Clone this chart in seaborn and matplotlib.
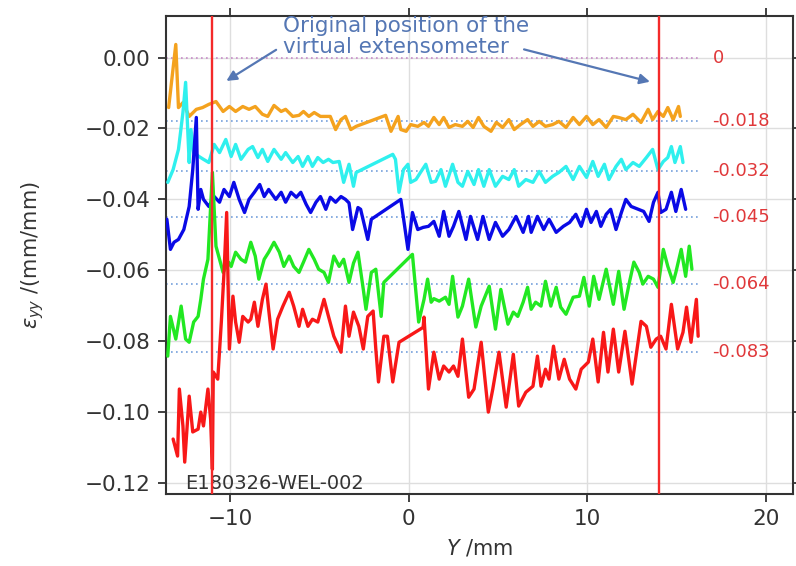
import numpy as np
import pandas as pd
import seaborn as sns
import matplotlib.pyplot as plt

# strain profiles along Y (mm, eps_yy)
orange = [(-13.45, -0.0141), (-13.05, 0.0037), (-12.9, -0.0141), (-12.65, -0.0127), (-12.3, -0.0166),
          (-11.9, -0.0146), (-11.55, -0.0141), (-11.2, -0.0132), (-10.8, -0.0124), (-10.4, -0.0152),
          (-10.05, -0.0138), (-9.7, -0.0152), (-9.3, -0.0138), (-8.95, -0.0146), (-8.6, -0.0138),
          (-8.2, -0.0160), (-7.9, -0.0166), (-7.55, -0.0135), (-7.15, -0.0152), (-6.9, -0.0146),
          (-6.5, -0.0166), (-6.15, -0.0163), (-5.9, -0.0152), (-5.6, -0.0166), (-5.3, -0.0155),
          (-4.95, -0.0166), (-4.55, -0.0166), (-4.4, -0.0166), (-4.1, -0.0203), (-3.8, -0.0175),
          (-3.55, -0.0166), (-3.25, -0.0203), (-2.95, -0.0194), (-1.3, -0.0163), (-1.0, -0.0208),
          (-0.6, -0.0166), (-0.45, -0.0203), (-0.15, -0.0208), (0.1, -0.0189), (0.5, -0.0194),
          (0.85, -0.0183), (1.1, -0.0194), (1.4, -0.0169), (1.7, -0.0189), (1.95, -0.0169),
          (2.25, -0.0197), (2.6, -0.0189), (3.0, -0.0194), (3.3, -0.0180), (3.6, -0.0197),
          (3.9, -0.0169), (4.2, -0.0194), (4.6, -0.0208), (4.9, -0.0183), (5.25, -0.0197),
          (5.6, -0.0175), (5.9, -0.0203), (6.25, -0.0189), (6.65, -0.0175), (6.95, -0.0194),
          (7.3, -0.0180), (7.65, -0.0194), (8.05, -0.0189), (8.4, -0.0180), (8.8, -0.0197),
          (9.2, -0.0169), (9.55, -0.0189), (9.95, -0.0166), (10.3, -0.0189), (10.65, -0.0175),
          (11.05, -0.0197), (11.45, -0.0166), (11.75, -0.0169), (12.15, -0.0175), (12.55, -0.0160),
          (13.0, -0.0183), (13.4, -0.0146), (13.65, -0.0175), (13.95, -0.0152), (14.25, -0.0166),
          (14.5, -0.0141), (14.8, -0.0175), (15.1, -0.0138), (15.2, -0.0166)]

cyan = [(-13.5, -0.0352), (-13.2, -0.0316), (-12.9, -0.0259), (-12.65, -0.0155), (-12.5, -0.0070),
        (-12.3, -0.0296), (-12.2, -0.0203), (-12.05, -0.0268), (-11.75, -0.0279), (-11.5, -0.0287),
        (-11.2, -0.0296), (-10.9, -0.0245), (-10.6, -0.0268), (-10.25, -0.0231), (-9.95, -0.0279),
        (-9.7, -0.0245), (-9.4, -0.0287), (-9.0, -0.0259), (-8.75, -0.0251), (-8.45, -0.0282),
        (-8.2, -0.0259), (-7.9, -0.0293), (-7.55, -0.0259), (-7.15, -0.0287), (-6.9, -0.0268),
        (-6.5, -0.0296), (-6.2, -0.0279), (-5.95, -0.0307), (-5.65, -0.0279), (-5.4, -0.0307),
        (-5.1, -0.0282), (-4.8, -0.0296), (-4.5, -0.0287), (-4.25, -0.0296), (-3.9, -0.0293),
        (-3.65, -0.0352), (-3.35, -0.0301), (-3.1, -0.0363), (-2.95, -0.0324), (-0.9, -0.0273),
        (-0.75, -0.0287), (-0.55, -0.0380), (-0.3, -0.0316), (-0.05, -0.0301), (0.1, -0.0352),
        (0.4, -0.0344), (0.65, -0.0324), (0.95, -0.0301), (1.25, -0.0352), (1.5, -0.0349),
        (1.8, -0.0316), (2.05, -0.0363), (2.45, -0.0301), (2.75, -0.0352), (3.0, -0.0363),
        (3.3, -0.0321), (3.65, -0.0358), (3.9, -0.0316), (4.2, -0.0363), (4.5, -0.0316),
        (4.85, -0.0363), (5.25, -0.0335), (5.6, -0.0344), (5.9, -0.0316), (6.15, -0.0363),
        (6.55, -0.0344), (6.95, -0.0352), (7.3, -0.0321), (7.65, -0.0352), (8.05, -0.0335),
        (8.4, -0.0324), (8.8, -0.0307), (9.2, -0.0344), (9.55, -0.0307), (9.95, -0.0338),
        (10.3, -0.0293), (10.6, -0.0335), (10.95, -0.0301), (11.2, -0.0344), (11.6, -0.0307),
        (11.9, -0.0287), (12.15, -0.0316), (12.55, -0.0296), (12.9, -0.0307), (13.3, -0.0282),
        (13.65, -0.0259), (13.95, -0.0316), (14.25, -0.0293), (14.5, -0.0282), (14.7, -0.0251),
        (14.9, -0.0296), (15.2, -0.0251), (15.35, -0.0296)]

blue = [(-13.55, -0.0456), (-13.35, -0.0541), (-13.15, -0.0521), (-12.9, -0.0513), (-12.6, -0.0485),
        (-12.3, -0.0420), (-12.1, -0.0316), (-11.9, -0.0169), (-11.8, -0.0428), (-11.65, -0.0372),
        (-11.5, -0.0400), (-11.2, -0.0420), (-10.9, -0.0392), (-10.6, -0.0408), (-10.35, -0.0372),
        (-10.05, -0.0392), (-9.8, -0.0352), (-9.5, -0.0400), (-9.2, -0.0437), (-8.95, -0.0400),
        (-8.65, -0.0380), (-8.35, -0.0358), (-8.1, -0.0392), (-7.85, -0.0372), (-7.45, -0.0400),
        (-7.15, -0.0380), (-6.9, -0.0408), (-6.6, -0.0380), (-6.3, -0.0394), (-6.05, -0.0380),
        (-5.75, -0.0414), (-5.5, -0.0437), (-5.2, -0.0408), (-4.95, -0.0392), (-4.65, -0.0428),
        (-4.4, -0.0394), (-4.1, -0.0408), (-3.8, -0.0392), (-3.55, -0.0400), (-3.35, -0.0410),
        (-3.15, -0.0485), (-2.85, -0.0423), (-2.7, -0.0428), (-2.3, -0.0513), (-2.1, -0.0456),
        (-0.45, -0.0400), (-0.05, -0.0541), (0.2, -0.0437), (0.5, -0.0485), (0.8, -0.0479),
        (1.1, -0.0476), (1.4, -0.0462), (1.7, -0.0504), (1.95, -0.0434), (2.25, -0.0504),
        (2.5, -0.0476), (2.8, -0.0434), (3.2, -0.0513), (3.45, -0.0448), (3.85, -0.0513),
        (4.15, -0.0448), (4.5, -0.0513), (4.85, -0.0465), (5.25, -0.0504), (5.6, -0.0485),
        (6.0, -0.0448), (6.4, -0.0493), (6.7, -0.0448), (6.85, -0.0493), (7.2, -0.0448),
        (7.55, -0.0485), (7.85, -0.0456), (8.25, -0.0493), (8.65, -0.0476), (9.0, -0.0465),
        (9.35, -0.0442), (9.65, -0.0476), (9.95, -0.0428), (10.2, -0.0465), (10.5, -0.0434),
        (10.75, -0.0476), (11.05, -0.0442), (11.3, -0.0428), (11.6, -0.0485), (11.9, -0.0437),
        (12.15, -0.0400), (12.45, -0.0420), (12.85, -0.0428), (13.15, -0.0434), (13.45, -0.0462),
        (13.7, -0.0408), (13.95, -0.0380), (14.1, -0.0437), (14.4, -0.0428), (14.7, -0.0380),
        (14.95, -0.0434), (15.25, -0.0372), (15.5, -0.0428)]

green = [(-13.5, -0.0842), (-13.35, -0.0730), (-13.05, -0.0794), (-12.75, -0.0701), (-12.5, -0.0794),
         (-12.3, -0.0803), (-12.05, -0.0746), (-11.8, -0.0730), (-11.65, -0.0682), (-11.5, -0.0625),
         (-11.25, -0.0569), (-11.0, -0.0324), (-10.8, -0.0532), (-10.6, -0.0569), (-10.4, -0.0606),
         (-10.1, -0.0577), (-9.95, -0.0589), (-9.7, -0.0549), (-9.4, -0.0569), (-9.15, -0.0577),
         (-8.85, -0.0521), (-8.6, -0.0560), (-8.4, -0.0625), (-8.1, -0.0569), (-7.85, -0.0549),
         (-7.55, -0.0521), (-7.25, -0.0549), (-7.0, -0.0589), (-6.7, -0.0560), (-6.45, -0.0589),
         (-6.15, -0.0606), (-5.9, -0.0577), (-5.6, -0.0541), (-5.3, -0.0569), (-5.05, -0.0597),
         (-4.75, -0.0606), (-4.5, -0.0634), (-4.2, -0.0560), (-3.9, -0.0589), (-3.65, -0.0569),
         (-3.35, -0.0634), (-3.1, -0.0580), (-2.85, -0.0549), (-2.55, -0.0654), (-2.4, -0.0710),
         (-2.1, -0.0606), (-1.85, -0.0597), (-1.55, -0.0730), (-1.4, -0.0634), (0.2, -0.0555),
         (0.55, -0.0746), (0.85, -0.0682), (1.05, -0.0625), (1.25, -0.0690), (1.4, -0.0680),
         (1.7, -0.0687), (2.05, -0.0676), (2.25, -0.0696), (2.45, -0.0617), (2.75, -0.0732),
         (3.0, -0.0701), (3.35, -0.0625), (3.75, -0.0760), (4.05, -0.0701), (4.5, -0.0645),
         (4.85, -0.0766), (5.15, -0.0654), (5.55, -0.0752), (5.85, -0.0718), (6.1, -0.0730),
         (6.4, -0.0690), (6.65, -0.0648), (6.85, -0.0710), (7.1, -0.0690), (7.4, -0.0701),
         (7.65, -0.0631), (7.95, -0.0701), (8.25, -0.0648), (8.5, -0.0704), (8.8, -0.0724),
         (9.2, -0.0676), (9.55, -0.0673), (9.8, -0.0620), (10.1, -0.0701), (10.35, -0.0617),
         (10.65, -0.0682), (11.05, -0.0597), (11.45, -0.0696), (11.75, -0.0603), (12.05, -0.0710),
         (12.35, -0.0634), (12.6, -0.0577), (12.9, -0.0606), (13.1, -0.0639), (13.4, -0.0617),
         (13.7, -0.0625), (13.95, -0.0648), (14.25, -0.0541), (14.5, -0.0589), (14.8, -0.0634),
         (14.95, -0.0606), (15.25, -0.0541), (15.5, -0.0617), (15.7, -0.0532), (15.85, -0.0597)]

red = [(-13.2, -0.1076), (-12.95, -0.1124), (-12.85, -0.0935), (-12.65, -0.1039), (-12.55, -0.1141),
       (-12.3, -0.0955), (-12.1, -0.1056), (-11.8, -0.1048), (-11.65, -0.1000), (-11.5, -0.1039),
       (-11.25, -0.0935), (-11.1, -0.1020), (-11.0, -0.1161), (-10.95, -0.0887), (-10.7, -0.0907),
       (-10.5, -0.0746), (-10.35, -0.0606), (-10.2, -0.0437), (-10.05, -0.0822), (-9.85, -0.0673),
       (-9.7, -0.0746), (-9.5, -0.0803), (-9.3, -0.0730), (-9.0, -0.0746), (-8.85, -0.0738),
       (-8.65, -0.0690), (-8.45, -0.0758), (-8.2, -0.0682), (-8.0, -0.0639), (-7.85, -0.0710),
       (-7.6, -0.0822), (-7.35, -0.0738), (-7.05, -0.0701), (-6.7, -0.0662), (-6.45, -0.0701),
       (-6.15, -0.0758), (-5.95, -0.0710), (-5.65, -0.0758), (-5.4, -0.0738), (-5.1, -0.0746),
       (-4.75, -0.0682), (-4.5, -0.0730), (-4.2, -0.0786), (-3.8, -0.0831), (-3.55, -0.0701),
       (-3.35, -0.0786), (-3.1, -0.0718), (-2.8, -0.0758), (-2.55, -0.0822), (-2.3, -0.0730),
       (-2.0, -0.0715), (-1.85, -0.0822), (-1.7, -0.0915), (-1.4, -0.0786), (-1.2, -0.0786),
       (-0.9, -0.0915), (-0.55, -0.0803), (0.8, -0.0761), (0.85, -0.0732), (1.1, -0.0935),
       (1.4, -0.0831), (1.7, -0.0907), (1.95, -0.0870), (2.25, -0.0887), (2.5, -0.0870),
       (2.75, -0.0899), (3.0, -0.0794), (3.35, -0.0958), (3.65, -0.0935), (4.05, -0.0803),
       (4.45, -0.1000), (4.7, -0.0935), (5.05, -0.0831), (5.45, -0.0986), (5.85, -0.0837),
       (6.15, -0.0983), (6.55, -0.0944), (6.95, -0.0927), (7.2, -0.0842), (7.4, -0.0927),
       (7.65, -0.0879), (7.85, -0.0907), (8.1, -0.0814), (8.4, -0.0907), (8.7, -0.0851),
       (9.0, -0.0907), (9.35, -0.0935), (9.65, -0.0879), (10.05, -0.0859), (10.3, -0.0794),
       (10.6, -0.0915), (10.9, -0.0775), (11.15, -0.0887), (11.45, -0.0766), (11.75, -0.0887),
       (12.1, -0.0772), (12.5, -0.0921), (13.0, -0.0744), (13.3, -0.0758), (13.55, -0.0817),
       (13.85, -0.0794), (14.1, -0.0786), (14.4, -0.0822), (14.7, -0.0696), (15.05, -0.0822),
       (15.35, -0.0775), (15.55, -0.0704), (15.8, -0.0803), (16.1, -0.0682), (16.2, -0.0786)]

# mean levels (dotted lines and red labels on the right)
levels = [0.0, -0.018, -0.032, -0.045, -0.064, -0.083]
level_labels = ["0", "-0.018", "-0.032", "-0.045", "-0.064", "-0.083"]

# virtual extensometer positions
extenso_y = [-11.0, 14.0]

series = {"orange": orange, "cyan": cyan, "blue": blue, "green": green, "red": red}
colors = {"orange": "#f4a21e", "cyan": "#2ff0ee", "blue": "#0a0ae6", "green": "#22e822", "red": "#f81818"}

sns.set_style("ticks")
plt.rcParams['font.family'] = ['DejaVu Sans']

fig = plt.figure(figsize=(7.96, 5.66), dpi=100)
ax = fig.add_axes([0.2085, 0.1272, 0.7875, 0.845])

ax.grid(True, color="#dedede", linewidth=1.0)
ax.set_axisbelow(True)

# dotted reference levels
for lev in levels:
    col = "#c78ac8" if lev == 0 else "#74a0dc"
    ax.hlines(lev, -13.6, 16.2, colors=col, linestyles=(0, (1, 2)), linewidth=1.2, zorder=1)

for name, pts in series.items():
    df = pd.DataFrame(pts, columns=["Y", "eyy"])
    sns.lineplot(data=df, x="Y", y="eyy", color=colors[name], linewidth=2.4,
                 sort=False, estimator=None, ax=ax, zorder=3)

for xv in extenso_y:
    ax.axvline(xv, color="#f42a2a", linewidth=1.7, zorder=4)

for lev, lab in zip(levels, level_labels):
    ax.text(17.0, lev, lab, color="#e0383a", fontsize=13, ha="left", va="center")

# annotation
ann_col = "#5577b4"
ax.text(-7.05, 0.0060, "Original position of the\nvirtual extensometer", color=ann_col,
        fontsize=15.5, ha="left", va="center", multialignment="left", linespacing=1.05, zorder=5)
ax.annotate("", xy=(-10.35, -0.0070), xytext=(-7.3, 0.0026),
            arrowprops=dict(arrowstyle="-|>", color=ann_col, lw=1.6, mutation_scale=15))
ax.annotate("", xy=(13.65, -0.0070), xytext=(6.3, 0.0025),
            arrowprops=dict(arrowstyle="-|>", color=ann_col, lw=1.6, mutation_scale=15))

ax.text(-12.5, -0.1217, "E180326-WEL-002", color="#333333", fontsize=14, ha="left", va="baseline")

ax.set_xlim(-13.6, 21.5)
ax.set_ylim(-0.1231, 0.0118)
ax.set_xticks([-10, 0, 10, 20])
ax.set_yticks([0.0, -0.02, -0.04, -0.06, -0.08, -0.10, -0.12])
ax.set_yticklabels(["0.00", "\u22120.02", "\u22120.04", "\u22120.06", "\u22120.08", "\u22120.10", "\u22120.12"])
ax.set_xticklabels(["\u221210", "0", "10", "20"])
ax.tick_params(direction="out", top=True, right=True, labeltop=False, labelright=False,
               length=6, width=1.3, color="#333333", labelsize=15.5, labelcolor="#333333", pad=5)
for sp in ax.spines.values():
    sp.set_color("#333333")
    sp.set_linewidth(1.5)

ax.set_xlabel(r"$Y$ /mm", fontsize=15, color="#333333", labelpad=6)
ax.set_ylabel(r"$\varepsilon_{yy}$ /(mm/mm)", fontsize=15, color="#333333", labelpad=28)

fig.savefig("out.png", dpi=100)
